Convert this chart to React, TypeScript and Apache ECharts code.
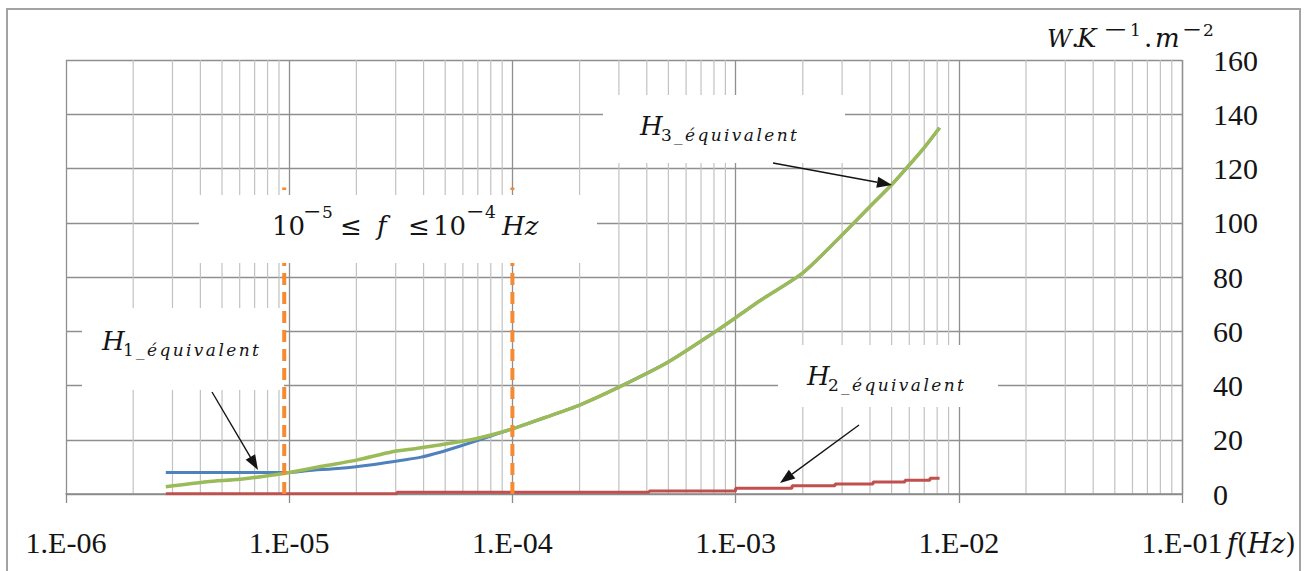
import { useEffect, useRef } from "react";
import * as echarts from "echarts";

// Frequency axis decades (Hz) and the minor grid mantissas inside each decade
const decadeExponents = [-6, -5, -4, -3, -2, -1];
const minorMantissas = [2, 3, 4, 5, 6, 7, 8, 9];

// Value axis (W.K-1.m-2)
const yMin = 0;
const yMax = 160;
const yStep = 20;

// H1 équivalent
const h1Freq = [2.8e-6, 5e-6, 1e-5, 1.2e-5, 1.7e-5, 2.3e-5, 2.9e-5, 3.9e-5, 4.7e-5, 5.8e-5, 7.7e-5, 9.5e-5,
  1e-4, 1.4e-4, 2e-4, 3e-4, 5e-4, 8e-4, 1e-3, 1.3e-3, 2e-3, 3e-3, 4e-3, 5e-3, 6e-3, 7e-3, 8.2e-3];
const h1Value = [7.9, 7.9, 7.9, 8.6, 9.5, 10.7, 11.9, 13.6, 15.3, 17.6, 20.9, 23.4,
  24.0, 28.2, 32.8, 39.4, 48.7, 59.5, 65, 71.5, 81.5, 95.5, 106, 114, 121.3, 127.7, 135];

// H2 équivalent (stepped values, each holding until the next frequency)
const h2Freq = [2.8e-6, 3.04e-5, 4.1e-4, 1e-3, 1.79e-3, 2.79e-3, 4.13e-3, 5.74e-3, 7.43e-3, 8.2e-3];
const h2Value = [0.1, 0.6, 1.1, 2.1, 3.0, 3.7, 4.4, 5.1, 5.8, 5.8];

// H3 équivalent
const h3Freq = [2.8e-6, 4.3e-6, 6e-6, 8.5e-6, 1e-5, 1.4e-5, 2e-5, 2.9e-5, 3.7e-5, 4.7e-5, 6.7e-5,
  1e-4, 1.4e-4, 2e-4, 3e-4, 5e-4, 8e-4, 1e-3, 1.3e-3, 2e-3, 3e-3, 4e-3, 5e-3, 6e-3, 7e-3, 8.2e-3];
const h3Value = [2.7, 4.5, 5.4, 7.0, 7.9, 10.2, 12.5, 15.6, 16.8, 18.1, 20.2,
  24.0, 28.2, 32.8, 39.4, 48.7, 59.5, 65, 71.5, 81.5, 95.5, 106, 114, 121.3, 127.7, 135];

// Frequency band markers (dashed verticals) and their height
const bandFreq = [9.5e-6, 1e-4];
const bandTop = 113;

const INK = "#141414";
const MATH = "'DejaVu Serif', serif";
const TICK = "'Liberation Serif', 'Times New Roman', serif";

const pairs = (xs: number[], ys: number[]) => xs.map((x, i) => [x, ys[i]]);

const minorFreqs: number[] = [];
decadeExponents.slice(0, -1).forEach((e) => {
  minorMantissas.forEach((m) => minorFreqs.push(m * Math.pow(10, e)));
});

function tickLabel(v: number) {
  const e = Math.round(Math.log10(v));
  return `1.E-${String(-e).padStart(2, "0")}`;
}

type Piece = { t: string; x: number; sup?: boolean; it?: boolean; fs?: number; sx?: number };

// Inline math set piece by piece on a shared baseline
function mathLine(pieces: Piece[], baseline: number, size: number, supSize: number, supRise: number) {
  return pieces.map((p) => {
    const fs = p.fs ?? (p.sup ? supSize : size);
    const base = p.sup ? baseline - supRise : baseline;
    return {
      type: "text",
      z: 7,
      x: p.x,
      y: base - 0.346 * fs,
      scaleX: p.sx ?? 1,
      style: {
        text: p.t,
        fontSize: fs,
        fontFamily: MATH,
        fontStyle: p.it ? "italic" : "normal",
        fill: INK,
        align: "left",
        verticalAlign: "middle",
      },
    };
  });
}

// "H" with the subscript "<n>_équivalent"
function hLabel(x: number, baseline: number, index: string) {
  const sub = "_équivalent".split("").map((c) => `{s|${c}}`).join("");
  return [
    {
      type: "text",
      z: 7,
      x,
      y: baseline - 0.346 * 26,
      style: { text: "H", fontSize: 26, fontFamily: MATH, fontStyle: "italic", fill: INK, align: "left", verticalAlign: "middle" },
    },
    {
      type: "text",
      z: 7,
      x: x + 21,
      y: baseline + 6 - 0.346 * 17,
      style: {
        text: `{n|${index}}${sub}`,
        align: "left",
        verticalAlign: "middle",
        rich: {
          n: { fontSize: 17, fontFamily: MATH, fill: INK, padding: [0, 1, 0, 0] },
          s: { fontSize: 17, fontFamily: MATH, fontStyle: "italic", fill: INK, padding: [0, 1.2, 0, 1.2] },
        },
      },
    },
  ];
}

function arrow(x1: number, y1: number, x2: number, y2: number) {
  const len = Math.hypot(x2 - x1, y2 - y1);
  const ux = (x2 - x1) / len;
  const uy = (y2 - y1) / len;
  const hl = 15;
  const hw = 5.5;
  const bx = x2 - ux * hl;
  const by = y2 - uy * hl;
  return [
    { type: "line", z: 7, shape: { x1, y1, x2: bx, y2: by }, style: { stroke: INK, lineWidth: 1.4 } },
    {
      type: "polygon",
      z: 7,
      shape: { points: [[x2, y2], [bx - uy * hw, by + ux * hw], [bx + uy * hw, by - ux * hw]] },
      style: { fill: INK },
    },
  ];
}

function whiteBox(x: number, y: number, width: number, height: number, z: number) {
  return { type: "rect", z, shape: { x, y, width, height }, style: { fill: "#ffffff" } };
}

export default function App() {
  const ref = useRef<HTMLDivElement>(null);

  useEffect(() => {
    if (!ref.current) return;
    const chart = echarts.init(ref.current, undefined, { renderer: "svg" });

    const graphic: any[] = [
      { type: "rect", z: 0, shape: { x: 7, y: 9, width: 1293, height: 600 }, style: { fill: "none", stroke: "#a3a3a3", lineWidth: 2 } },
      whiteBox(82, 308, 202, 82, 1),
      whiteBox(778, 345, 220, 62, 1),
      whiteBox(603, 95, 242, 68, 1),
      whiteBox(199, 195, 398, 68, 5),
      ...mathLine(
        [
          { t: "10", x: 272 },
          { t: "−", x: 303, sup: true, fs: 20, sx: 1.1 },
          { t: "5", x: 322, sup: true },
          { t: "≤", x: 340 },
          { t: "f", x: 377, it: true },
          { t: "≤", x: 408 },
          { t: "10", x: 433 },
          { t: "−", x: 466, sup: true, fs: 20, sx: 1.1 },
          { t: "4", x: 485, sup: true },
          { t: "Hz", x: 502, it: true },
        ],
        235, 26, 17, 17
      ),
      ...mathLine(
        [
          { t: "W", x: 1047, it: true, fs: 24 },
          { t: ".", x: 1071 },
          { t: "K", x: 1077, it: true },
          { t: "−", x: 1103, sup: true, fs: 20, sx: 1.5 },
          { t: "1", x: 1130, sup: true },
          { t: ".", x: 1144 },
          { t: "m", x: 1155, it: true },
          { t: "−", x: 1182, sup: true, fs: 20, sx: 1.2 },
          { t: "2", x: 1203, sup: true },
        ],
        47, 26, 17, 11
      ),
      {
        type: "text",
        z: 7,
        x: 1227,
        y: 543,
        style: {
          text: "{i|f}{n|(}{i|Hz}{n|)}",
          align: "left",
          verticalAlign: "middle",
          rich: {
            i: { fontSize: 27, fontFamily: MATH, fontStyle: "italic", fill: INK },
            n: { fontSize: 27, fontFamily: MATH, fill: INK },
          },
        },
      },
      ...hLabel(102, 350, "1"),
      ...hLabel(807, 385, "2"),
      ...hLabel(640, 135, "3"),
      ...arrow(212, 392, 258, 470),
      ...arrow(859, 425, 780, 483),
      ...arrow(773, 163, 892, 185),
    ];

    chart.setOption({
      animation: false,
      backgroundColor: "#ffffff",
      grid: { left: 66, right: 125, top: 60, bottom: 77, containLabel: false, outerBoundsMode: "none" },
      xAxis: {
        type: "log",
        logBase: 10,
        min: Math.pow(10, decadeExponents[0]),
        max: Math.pow(10, decadeExponents[decadeExponents.length - 1]),
        axisLine: { show: true, lineStyle: { color: "#8a8a8a", width: 1.5 } },
        axisTick: { show: true, length: 9, lineStyle: { color: "#8a8a8a", width: 1.3 } },
        axisLabel: {
          formatter: tickLabel,
          fontSize: 30,
          fontFamily: TICK,
          color: INK,
          margin: 33,
          showMinLabel: true,
          showMaxLabel: true,
        },
        splitLine: { show: true, lineStyle: { color: "#8f8f8f", width: 1.3 } },
        minorTick: { show: false },
        minorSplitLine: { show: false },
      },
      yAxis: {
        type: "value",
        position: "right",
        min: yMin,
        max: yMax,
        interval: yStep,
        axisLine: { show: false },
        axisTick: { show: false },
        axisLabel: { fontSize: 30, fontFamily: TICK, color: INK, margin: 31 },
        splitLine: { show: true, lineStyle: { color: "#8f8f8f", width: 1.3 } },
      },
      series: [
        {
          // minor vertical grid at 2..9 of each decade
          name: "minor grid",
          type: "custom",
          silent: true,
          z: 0,
          clip: true,
          data: minorFreqs.map((f) => [f, yMin, yMax]),
          encode: { x: 0, y: [1, 2] },
          renderItem: (_params: any, api: any) => {
            const top = api.coord([api.value(0), api.value(2)]);
            const bottom = api.coord([api.value(0), api.value(1)]);
            return {
              type: "line",
              shape: { x1: top[0], y1: top[1], x2: bottom[0], y2: bottom[1] },
              style: { stroke: "#c2c2c2", lineWidth: 1.2 },
            };
          },
        },
        {
          name: "H2_équivalent",
          type: "line",
          step: "end",
          data: pairs(h2Freq, h2Value),
          showSymbol: false,
          z: 2,
          lineStyle: { color: "#c0504d", width: 3 },
          itemStyle: { color: "#c0504d" },
        },
        {
          name: "H1_équivalent",
          type: "line",
          data: pairs(h1Freq, h1Value),
          showSymbol: false,
          smooth: 0.25,
          z: 2,
          lineStyle: { color: "#4f81bd", width: 3 },
          itemStyle: { color: "#4f81bd" },
        },
        {
          name: "H3_équivalent",
          type: "line",
          data: pairs(h3Freq, h3Value),
          showSymbol: false,
          smooth: 0.25,
          z: 3,
          lineStyle: { color: "#9bbb59", width: 3.5 },
          itemStyle: { color: "#9bbb59" },
        },
        ...bandFreq.map((f) => ({
          name: "band",
          type: "line",
          data: [
            [f, 0],
            [f, bandTop],
          ],
          showSymbol: false,
          z: 4,
          lineStyle: { color: "#f58a32", width: 4, type: [12, 7] },
          itemStyle: { color: "#f58a32" },
        })),
      ],
      graphic,
    });

    return () => chart.dispose();
  }, []);

  return (
    <div
      ref={ref}
      style={{ position: "absolute", left: 0, top: 0, width: 1307, height: 571, background: "#ffffff" }}
    />
  );
}
